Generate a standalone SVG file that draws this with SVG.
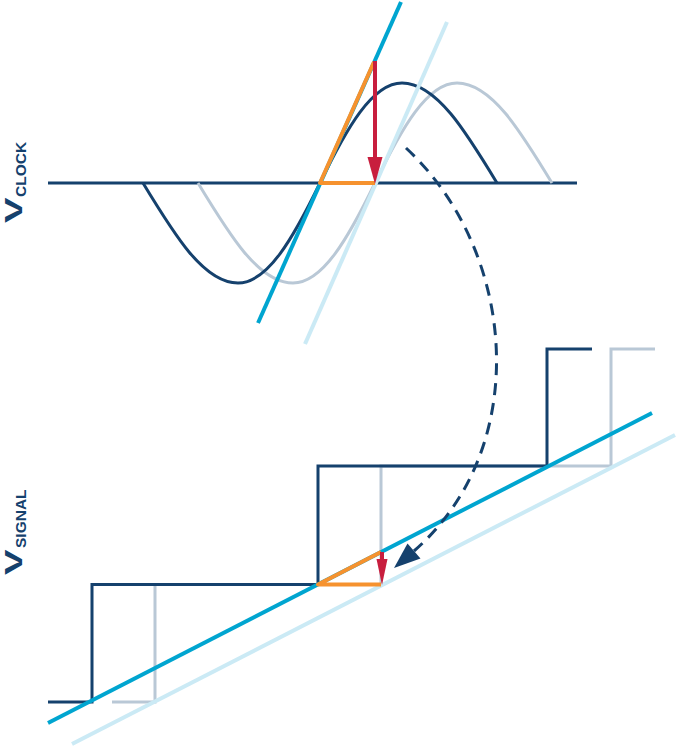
<svg xmlns="http://www.w3.org/2000/svg" width="676" height="747" viewBox="0 0 676 747">
<style>
.lbl{font-family:"Liberation Sans",Arial,sans-serif;font-weight:bold;fill:#15416d}
.dark{fill:none;stroke:#15416d;stroke-width:3}
.grey{fill:none;stroke:#b9c8d6;stroke-width:3}
.cyan{fill:none;stroke:#00a5d0;stroke-width:4}
.lcyan{fill:none;stroke:#cbeaf5;stroke-width:4}
.orange{fill:none;stroke:#f6922e;stroke-width:4;stroke-linejoin:round}
.red{fill:none;stroke:#c81e3e;stroke-width:4}
.redhead{fill:#c81e3e}
.dash{fill:none;stroke:#15416d;stroke-width:3;stroke-dasharray:12 8}
</style>
<rect width="676" height="747" fill="#ffffff"/>
<g id="label-vclock">
<text class="lbl" font-size="24" transform="translate(22,223) rotate(-90) scale(1.6,1)">V</text>
<text class="lbl" font-size="15.5" transform="translate(26,197) rotate(-90)">CLOCK</text>
</g>
<g id="label-vsignal">
<text class="lbl" font-size="24" transform="translate(22,575) rotate(-90) scale(1.6,1)">V</text>
<text class="lbl" font-size="15.5" transform="translate(26,548) rotate(-90)">SIGNAL</text>
</g>
<g id="clock">
<line class="dark" x1="48" y1="183" x2="577" y2="183"/>
<path class="grey" d="M198,183 C229,234.2 258.6,283 293,283 C322.7,283 348.3,238 375,183 C401.7,128 427.3,83 457,83 C491.4,83 521,131.8 552,183"/>
<path class="dark" d="M143,183 C174,234.2 203.6,283 238,283 C267.7,283 293.3,238 320,183 C346.7,128 372.3,83 402,83 C436.4,83 466,131.8 497,183"/>
<line class="lcyan" x1="305" y1="344" x2="447" y2="22"/>
<line class="cyan" x1="258" y1="323" x2="401" y2="2"/>
<polyline class="orange" points="375,183 320,183 374,62"/>
<line class="red" x1="375" y1="61" x2="375" y2="160"/>
<polygon class="redhead" points="367.5,157 382.5,157 375,184"/>
</g>
<g id="signal">
<polyline class="grey" points="112,702 155,702 155,584.5 381,584.5 381,466 611,466 611,349 655,349"/>
<polyline class="dark" points="48,702 92,702 92,584.5 318,584.5 318,466 547,466 547,349 592,349"/>
<line class="lcyan" x1="72" y1="744" x2="675" y2="435"/>
<line class="cyan" x1="48" y1="723" x2="652" y2="413"/>
<polyline class="orange" points="381,584.5 318,584.5 381,552"/>
<line class="red" x1="382" y1="552" x2="382" y2="562"/>
<polygon class="redhead" points="376.5,559 387.5,559 382,585"/>
</g>
<g id="connectors">
<path class="dash" d="M406,148 C516,250 534,446 414,551"/>
<polygon fill="#15416d" points="394,568 420.5,558.6 407.5,543.4"/>
</g>
</svg>
